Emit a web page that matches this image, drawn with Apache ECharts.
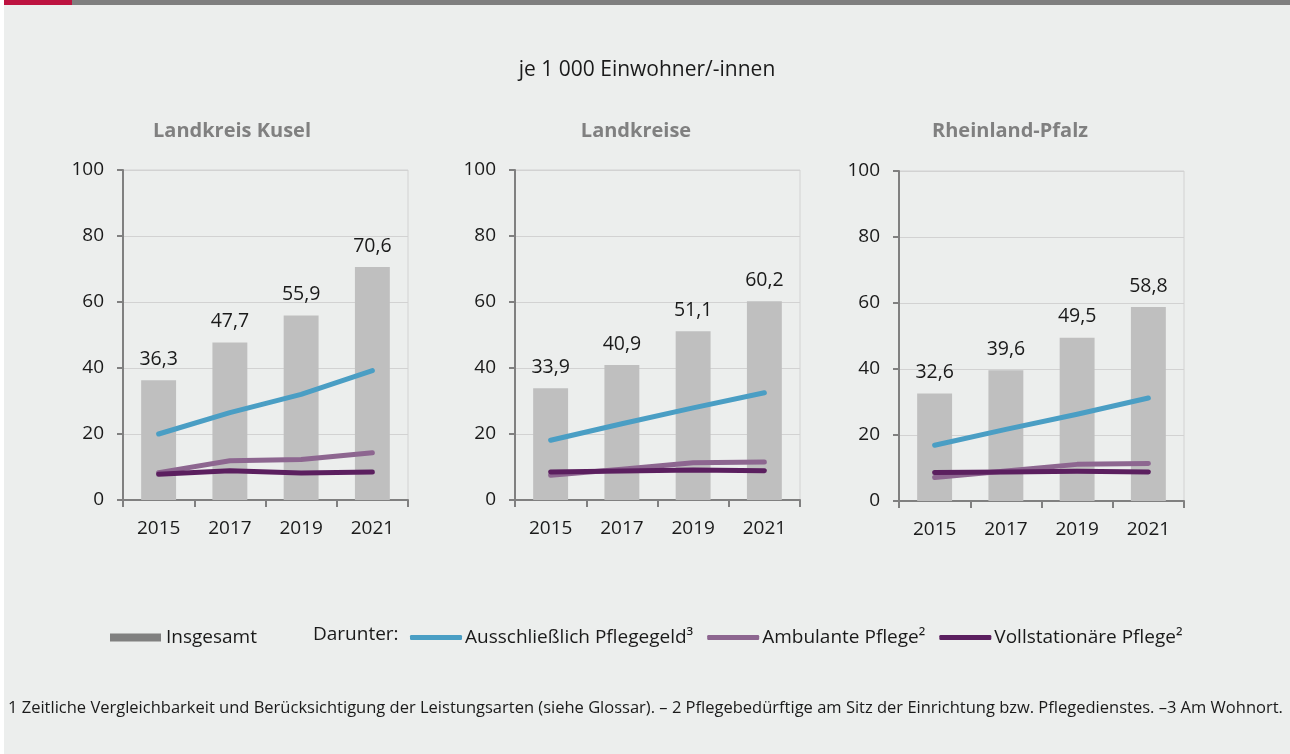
<!DOCTYPE html>
<html>
<head>
<meta charset="utf-8">
<script src="https://cdn.jsdelivr.net/npm/echarts@6/dist/echarts.min.js"></script>
<style>
  html, body { margin: 0; padding: 0; background: #ffffff; }
  #chart { width: 1290px; height: 754px; }
</style>
</head>
<body>
<div id="chart"></div>
<script>
// Pflegebedürftige je 1 000 Einwohner/-innen
const years = ['2015', '2017', '2019', '2021'];
const panelTitles = ['Landkreis Kusel', 'Landkreise', 'Rheinland-Pfalz'];

// Insgesamt (bars), one array per region
const totalKusel = [36.3, 47.7, 55.9, 70.6];
const totalLandkreise = [33.9, 40.9, 51.1, 60.2];
const totalRLP = [32.6, 39.6, 49.5, 58.8];

// Ausschließlich Pflegegeld
const geldKusel = [20.0, 26.5, 32.0, 39.2];
const geldLandkreise = [18.1, 23.1, 27.9, 32.5];
const geldRLP = [16.9, 21.7, 26.3, 31.2];

// Ambulante Pflege
const ambKusel = [8.3, 11.9, 12.3, 14.3];
const ambLandkreise = [7.5, 9.3, 11.3, 11.5];
const ambRLP = [7.1, 9.1, 11.1, 11.4];

// Vollstationäre Pflege
const vollKusel = [7.8, 8.9, 8.2, 8.5];
const vollLandkreise = [8.5, 8.8, 9.1, 8.9];
const vollRLP = [8.6, 8.8, 9.0, 8.8];

const yTicks = { min: 0, max: 100, interval: 20 };

const NAME_TOTAL = 'Insgesamt';
const NAME_GELD = 'Ausschließlich Pflegegeld³';
const NAME_AMB = 'Ambulante Pflege²';
const NAME_VOLL = 'Vollstationäre Pflege²';

const FONT = '"Open Sans", "Noto Sans", sans-serif';
const C_BAR = '#bfbfbf';
const C_GELD = '#4a9ec4';
const C_AMB = '#8d6690';
const C_VOLL = '#5b1f5f';
const C_AXIS = '#808080';

const panels = [
  { title: panelTitles[0], total: totalKusel, geld: geldKusel, amb: ambKusel, voll: vollKusel, left: 123, top: 170, titleX: 232 },
  { title: panelTitles[1], total: totalLandkreise, geld: geldLandkreise, amb: ambLandkreise, voll: vollLandkreise, left: 515, top: 170, titleX: 636 },
  { title: panelTitles[2], total: totalRLP, geld: geldRLP, amb: ambRLP, voll: vollRLP, left: 899, top: 171, titleX: 1010 }
];

const grid = [], xAxis = [], yAxis = [], series = [];
const graphic = [
  // panel background and header rule
  { type: 'rect', shape: { x: 4, y: 0, width: 1286, height: 754 }, style: { fill: '#eceeed' }, z: -10, silent: true },
  { type: 'rect', shape: { x: 4, y: 0, width: 68, height: 5 }, style: { fill: '#bd1340' }, z: -9, silent: true },
  { type: 'rect', shape: { x: 72, y: 0, width: 1218, height: 5 }, style: { fill: '#7f7f7f' }, z: -9, silent: true },
  { type: 'text', x: 647, y: 70, style: { text: 'je 1 000 Einwohner/-innen', font: '21px ' + FONT, fill: '#1a1a1a', textAlign: 'center', textVerticalAlign: 'middle' } },
  { type: 'text', x: 313, y: 635, style: { text: 'Darunter:', font: '19px ' + FONT, fill: '#1a1a1a', textAlign: 'left', textVerticalAlign: 'middle' } },
  { type: 'text', x: 8, y: 708, style: { text: '1 Zeitliche Vergleichbarkeit und Berücksichtigung der Leistungsarten (siehe Glossar). – 2 Pflegebedürftige am Sitz der Einrichtung bzw. Pflegedienstes. –3 Am Wohnort.', font: '16.5px ' + FONT, fill: '#1a1a1a', textAlign: 'left', textVerticalAlign: 'middle' } }
];

const fmt = v => v.toFixed(1).replace('.', ',');

panels.forEach((p, i) => {
  grid.push({ left: p.left, top: p.top, width: 285, height: 330, show: true, borderColor: '#d2d2d2', borderWidth: 1, backgroundColor: 'transparent' });
  xAxis.push({
    type: 'category', gridIndex: i, data: years, boundaryGap: true,
    axisLine: { lineStyle: { color: C_AXIS, width: 2 } },
    axisTick: { show: true, length: 7, alignWithLabel: false, lineStyle: { color: C_AXIS, width: 2 } },
    axisLabel: { color: '#1a1a1a', fontSize: 19, fontFamily: FONT, margin: 19 }
  });
  yAxis.push({
    type: 'value', gridIndex: i, min: yTicks.min, max: yTicks.max, interval: yTicks.interval,
    axisLine: { show: true, lineStyle: { color: C_AXIS, width: 2 } },
    axisTick: { show: true, length: 6, lineStyle: { color: C_AXIS, width: 2 } },
    axisLabel: { color: '#1a1a1a', fontSize: 19, fontFamily: FONT, margin: 19 },
    splitLine: { lineStyle: { color: '#d2d2d2', width: 1 } }
  });
  series.push({
    name: NAME_TOTAL, type: 'bar', xAxisIndex: i, yAxisIndex: i, data: p.total,
    barWidth: '49%', itemStyle: { color: C_BAR }, z: 2,
    label: { show: true, position: 'top', distance: 11, formatter: d => fmt(d.value), color: '#1a1a1a', fontSize: 19.5, fontFamily: FONT }
  });
  [[NAME_GELD, p.geld, C_GELD, 5], [NAME_AMB, p.amb, C_AMB, 4], [NAME_VOLL, p.voll, C_VOLL, 6]].forEach(([name, data, color, z]) => {
    series.push({
      name, type: 'line', xAxisIndex: i, yAxisIndex: i, data,
      symbol: 'none', z,
      itemStyle: { color },
      lineStyle: { color, width: 5, cap: 'round', join: 'round' }
    });
  });
  graphic.push({ type: 'text', x: p.titleX, y: 131, style: { text: p.title, font: 'bold 20px ' + FONT, fill: '#808080', textAlign: 'center', textVerticalAlign: 'middle' } });
});

const chart = echarts.init(document.getElementById('chart'), null, { renderer: 'canvas' });
chart.setOption({
  animation: false,
  backgroundColor: '#ffffff',
  textStyle: { fontFamily: FONT },
  grid, xAxis, yAxis, series, graphic,
  legend: [
    {
      data: [{ name: NAME_TOTAL, itemStyle: { color: '#808080' } }],
      left: 105, top: 623, icon: 'rect', itemWidth: 51, itemHeight: 8,
      textStyle: { fontSize: 19, color: '#1a1a1a', fontFamily: FONT }, selectedMode: false
    },
    {
      data: [NAME_GELD, NAME_AMB, NAME_VOLL],
      left: 405, top: 623, icon: 'roundRect', itemWidth: 52, itemHeight: 5, itemGap: 14,
      textStyle: { fontSize: 19, color: '#1a1a1a', fontFamily: FONT, padding: [0, 0, 0, -2] }, selectedMode: false
    }
  ]
});
</script>
</body>
</html>
